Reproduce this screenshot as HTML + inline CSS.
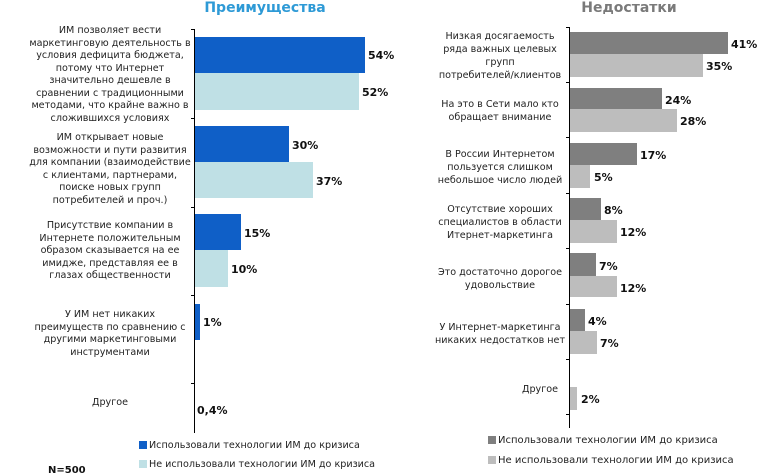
<!DOCTYPE html><html><head><meta charset="utf-8"><style>body{margin:0;background:#fff}svg{display:block}text{font-family:"DejaVu Sans","Liberation Sans",sans-serif}</style></head><body>
<svg width="757" height="475" viewBox="0 0 757 475" xmlns="http://www.w3.org/2000/svg">
<text x="265" y="12" font-size="14" font-weight="bold" fill="#2e9ad6" text-anchor="middle">Преимущества</text>
<text x="629" y="12" font-size="14" font-weight="bold" fill="#7a7a7a" text-anchor="middle">Недостатки</text>
<g fill="#0f5fc7"><rect x="194" y="37" width="171" height="36"/><rect x="194" y="126" width="95" height="36"/><rect x="194" y="214" width="47" height="36"/><rect x="194" y="304" width="6" height="36"/></g>
<g fill="#bfe0e5"><rect x="194" y="73" width="165" height="37"/><rect x="194" y="162" width="119" height="36"/><rect x="194" y="250" width="34" height="37"/></g>
<g stroke="#000" stroke-width="1"><line x1="194.5" y1="29" x2="194.5" y2="433"/><line x1="191" y1="29.5" x2="194" y2="29.5"/><line x1="191" y1="118.5" x2="194" y2="118.5"/><line x1="191" y1="207.5" x2="194" y2="207.5"/><line x1="191" y1="295.5" x2="194" y2="295.5"/><line x1="191" y1="383.5" x2="194" y2="383.5"/></g>
<g font-size="11" font-weight="bold" fill="#111"><text x="368" y="59">54%</text><text x="362" y="96">52%</text><text x="292" y="149">30%</text><text x="316" y="185">37%</text><text x="244" y="237">15%</text><text x="231" y="273">10%</text><text x="203" y="326">1%</text><text x="197" y="414">0,4%</text></g>
<g font-size="9.6" fill="#222" text-anchor="middle">
<text x="110" y="33">ИМ позволяет вести</text><text x="110" y="46">маркетинговую деятельность в</text><text x="110" y="58">условия дефицита бюджета,</text><text x="110" y="71">потому что Интернет</text><text x="110" y="83">значительно дешевле в</text><text x="110" y="96">сравнении с традиционными</text><text x="110" y="108">методами, что крайне важно в</text><text x="110" y="121">сложившихся условиях</text>
<text x="110" y="140">ИМ открывает новые</text><text x="110" y="153">возможности и пути развития</text><text x="110" y="165">для компании (взаимодействие</text><text x="110" y="178">с клиентами, партнерами,</text><text x="110" y="190">поиске новых групп</text><text x="110" y="203">потребителей и проч.)</text>
<text x="110" y="228">Присутствие компании в</text><text x="110" y="241">Интернете положительным</text><text x="110" y="253">образом сказывается на ее</text><text x="110" y="266">имидже, представляя ее в</text><text x="110" y="278">глазах общественности</text>
<text x="110" y="317">У ИМ нет никаких</text><text x="110" y="330">преимуществ по сравнению с</text><text x="110" y="342">другими маркетинговыми</text><text x="110" y="355">инструментами</text>
<text x="110" y="405">Другое</text></g>
<rect x="139" y="441" width="8" height="8" fill="#0f5fc7"/><text x="149" y="448" font-size="9.6" fill="#222">Использовали технологии ИМ до кризиса</text>
<rect x="139" y="460" width="8" height="8" fill="#bfe0e5"/><text x="149" y="467" font-size="9.6" fill="#222">Не использовали технологии ИМ до кризиса</text>
<text x="48" y="473" font-size="10" font-weight="bold" fill="#111">N=500</text>
<g fill="#7f7f7f"><rect x="569" y="32" width="159" height="22"/><rect x="569" y="88" width="93" height="21"/><rect x="569" y="143" width="68" height="22"/><rect x="569" y="198" width="32" height="22"/><rect x="569" y="253" width="27" height="23"/><rect x="569" y="309" width="16" height="22"/></g>
<g fill="#bdbdbd"><rect x="569" y="54" width="134" height="23"/><rect x="569" y="109" width="108" height="23"/><rect x="569" y="165" width="21" height="23"/><rect x="569" y="220" width="48" height="23"/><rect x="569" y="276" width="48" height="21"/><rect x="569" y="331" width="28" height="23"/><rect x="569" y="387" width="8" height="23"/></g>
<g stroke="#000" stroke-width="1"><line x1="569.5" y1="27" x2="569.5" y2="428"/><line x1="566" y1="27.5" x2="569" y2="27.5"/><line x1="566" y1="82.5" x2="569" y2="82.5"/><line x1="566" y1="137.5" x2="569" y2="137.5"/><line x1="566" y1="193.5" x2="569" y2="193.5"/><line x1="566" y1="304.5" x2="569" y2="304.5"/><line x1="566" y1="248.5" x2="569" y2="248.5"/><line x1="566" y1="359.5" x2="569" y2="359.5"/><line x1="566" y1="414.5" x2="569" y2="414.5"/></g>
<g font-size="11" font-weight="bold" fill="#111"><text x="731" y="48">41%</text><text x="706" y="70">35%</text><text x="665" y="104">24%</text><text x="680" y="125">28%</text><text x="640" y="159">17%</text><text x="594" y="181">5%</text><text x="604" y="214">8%</text><text x="620" y="236">12%</text><text x="599" y="270">7%</text><text x="620" y="292">12%</text><text x="588" y="325">4%</text><text x="600" y="347">7%</text><text x="581" y="403">2%</text></g>
<g font-size="9.6" fill="#222" text-anchor="middle">
<text x="500" y="39">Низкая досягаемость</text><text x="500" y="52">ряда важных целевых</text><text x="500" y="65">групп</text><text x="500" y="78">потребителей/клиентов</text>
<text x="500" y="107">На это в Сети мало кто</text><text x="500" y="120">обращает внимание</text>
<text x="500" y="157">В России Интернетом</text><text x="500" y="170">пользуется слишком</text><text x="500" y="183">небольшое число людей</text>
<text x="500" y="212">Отсутствие хороших</text><text x="500" y="225">специалистов в области</text><text x="500" y="238">Итернет-маркетинга</text>
<text x="500" y="275">Это достаточно дорогое</text><text x="500" y="288">удовольствие</text>
<text x="500" y="330">У Интернет-маркетинга</text><text x="500" y="343">никаких недостатков нет</text>
<text x="540" y="392">Другое</text></g>
<rect x="488" y="436" width="8" height="8" fill="#7f7f7f"/><text x="498" y="443" font-size="10" fill="#222">Использовали технологии ИМ до кризиса</text>
<rect x="488" y="456" width="8" height="8" fill="#bdbdbd"/><text x="498" y="463" font-size="10" fill="#222">Не использовали технологии ИМ до кризиса</text>
</svg></body></html>
